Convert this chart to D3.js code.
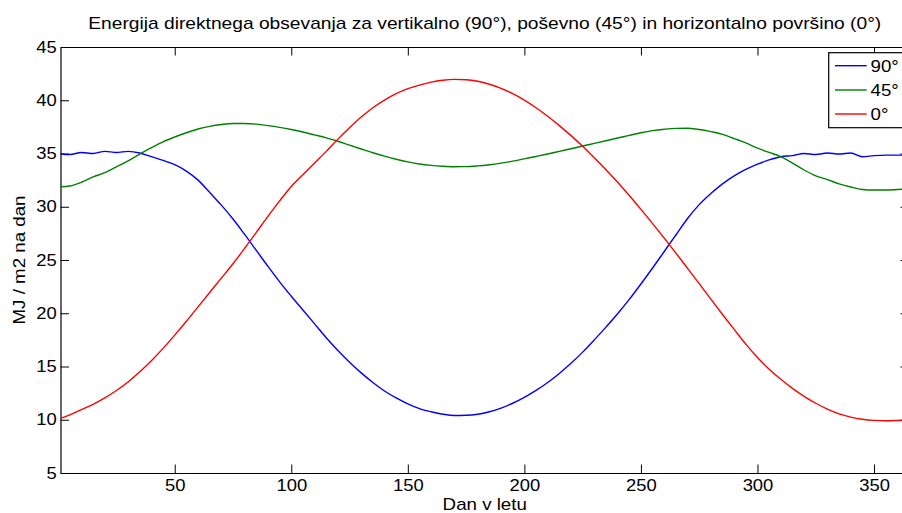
<!DOCTYPE html>
<html>
<head>
<meta charset="utf-8">
<script src="https://cdn.jsdelivr.net/npm/d3@7"></script>
<style>
  html, body { margin: 0; padding: 0; background: #fff; }
  svg { display: block; font-family: "Liberation Sans", Arial, sans-serif; }
</style>
</head>
<body>
<svg id="chart" width="902" height="513"></svg>
<script>
// Day of year at which each value was sampled
const days = [1, 5, 10, 15, 20, 25, 30, 35, 40, 45, 50, 55, 60, 65, 70, 75, 80, 85, 90, 95,
  100, 105, 110, 115, 120, 125, 130, 135, 140, 145, 150, 155, 160, 165, 170, 175, 180, 185, 190, 195,
  200, 205, 210, 215, 220, 225, 230, 235, 240, 245, 250, 255, 260, 265, 270, 275, 280, 285, 290, 295,
  300, 305, 310, 315, 320, 325, 330, 335, 340, 345, 350, 355, 360, 365];

// Daily direct irradiation, MJ / m2, vertical surface (90°)
const vertical90 = [34.95, 34.9, 35.1, 35.0, 35.2, 35.1, 35.2, 35.05, 34.7, 34.35, 33.95, 33.35, 32.5, 31.35, 30.15, 28.85, 27.4, 25.9, 24.4, 22.95,
  21.6, 20.3, 19.0, 17.7, 16.5, 15.4, 14.4, 13.5, 12.7, 12.05, 11.5, 11.05, 10.75, 10.52, 10.4, 10.42, 10.52, 10.75, 11.1, 11.55,
  12.1, 12.75, 13.5, 14.35, 15.3, 16.35, 17.5, 18.7, 19.95, 21.3, 22.75, 24.25, 25.8, 27.35, 28.9, 30.2, 31.25, 32.15, 32.9, 33.5,
  34.0, 34.4, 34.7, 34.8, 35.0, 34.9, 35.05, 34.95, 35.05, 34.7, 34.8, 34.85, 34.85, 34.85];

// Tilted surface (45°)
const tilted45 = [31.88, 31.95, 32.3, 32.8, 33.2, 33.75, 34.3, 34.95, 35.55, 36.1, 36.55, 36.95, 37.3, 37.55, 37.72, 37.82, 37.82, 37.76, 37.62, 37.45,
  37.25, 37.02, 36.75, 36.47, 36.15, 35.78, 35.42, 35.07, 34.75, 34.46, 34.21, 34.01, 33.88, 33.8, 33.76, 33.77, 33.84, 33.95, 34.1, 34.28,
  34.5, 34.72, 34.95, 35.2, 35.45, 35.7, 35.95, 36.2, 36.45, 36.7, 36.95, 37.15, 37.28, 37.36, 37.37, 37.25, 37.05, 36.8, 36.4, 36.0,
  35.5, 35.1, 34.7, 34.1, 33.45, 32.9, 32.55, 32.15, 31.85, 31.62, 31.57, 31.57, 31.62, 31.68];

// Horizontal surface (0°)
const horizontal0 = [10.13, 10.45, 10.95, 11.45, 12.05, 12.75, 13.55, 14.5, 15.55, 16.7, 17.95, 19.25, 20.6, 21.95, 23.3, 24.65, 26.1, 27.6, 29.1, 30.55,
  31.9, 33.0, 34.1, 35.2, 36.35, 37.42, 38.42, 39.3, 40.02, 40.62, 41.09, 41.42, 41.7, 41.88, 41.96, 41.93, 41.78, 41.5, 41.12, 40.62,
  40.02, 39.3, 38.5, 37.62, 36.68, 35.68, 34.6, 33.48, 32.3, 31.05, 29.75, 28.42, 27.05, 25.65, 24.22, 22.78, 21.32, 19.88, 18.48, 17.1,
  15.85, 14.75, 13.8, 12.95, 12.2, 11.55, 11.0, 10.55, 10.25, 10.05, 9.94, 9.9, 9.93, 9.98];

const seriesNames = ["90°", "45°", "0°"];
const seriesColors = ["#0000ff", "#008000", "#ff0000"];
const xTicks = [50, 100, 150, 200, 250, 300, 350];
const yTicks = [5, 10, 15, 20, 25, 30, 35, 40, 45];

const titleText = "Energija direktnega obsevanja za vertikalno (90°), poševno (45°) in horizontalno površino (0°)";
const xLabel = "Dan v letu";
const yLabel = "MJ / m2 na dan";

const svg = d3.select("#chart");
const box = { left: 60.5, right: 909, top: 47, bottom: 473 };

const x = d3.scaleLinear().domain([1, 365]).range([box.left, box.right]);
const y = d3.scaleLinear().domain([5, 45]).range([box.bottom, box.top]);

const tick = 8.5;
const fontSize = 16;
const tickStretch = 1.15;   // wide Helvetica-like glyph proportions
const labelStretch = 1.17;
const titleStretch = 1.2;

// Axes box with inward ticks on all four sides
const gBottom = svg.append("g").attr("transform", `translate(0,${box.bottom})`)
  .call(d3.axisBottom(x).tickValues(xTicks).tickSize(-tick).tickSizeOuter(0).tickPadding(6.5));
const gTop = svg.append("g").attr("transform", `translate(0,${box.top})`)
  .call(d3.axisTop(x).tickValues(xTicks).tickSize(-tick).tickSizeOuter(0).tickFormat(""));
const gLeft = svg.append("g").attr("transform", `translate(${box.left},0)`)
  .call(d3.axisLeft(y).tickValues(yTicks).tickSize(-tick).tickSizeOuter(0).tickPadding(3.3));
const gRight = svg.append("g").attr("transform", `translate(${box.right},0)`)
  .call(d3.axisRight(y).tickValues(yTicks).tickSize(-tick).tickSizeOuter(0).tickFormat(""));

[gBottom, gTop, gLeft, gRight].forEach(g => {
  g.selectAll(".domain").attr("stroke", "#000").attr("stroke-width", 1.2);
  g.selectAll(".tick line").attr("stroke", "#000").attr("stroke-width", 1);
  g.selectAll(".tick text").attr("fill", "#000")
    .attr("transform", `scale(${tickStretch},1)`)
    .style("font-family", '"Liberation Sans", Arial, sans-serif')
    .style("font-size", fontSize + "px");
});

// Data lines
const series = [vertical90, tilted45, horizontal0];
const line = d3.line()
  .x((d, i) => x(days[i]))
  .y(d => y(d))
  .curve(d3.curveMonotoneX);

svg.append("defs").append("clipPath").attr("id", "plotClip")
  .append("rect").attr("x", box.left).attr("y", box.top)
  .attr("width", box.right - box.left).attr("height", box.bottom - box.top);

svg.append("g").attr("clip-path", "url(#plotClip)")
  .selectAll("path").data(series).join("path")
  .attr("d", line)
  .attr("fill", "none")
  .attr("stroke", (d, i) => seriesColors[i])
  .attr("stroke-width", 1.4)
  .attr("stroke-linejoin", "round");

// Text placed at (px, py), optionally rotated, with widened glyphs
function label(px, py, text, anchor, rotate, stretch) {
  return svg.append("text")
    .attr("transform", `translate(${px},${py}) rotate(${rotate || 0}) scale(${stretch},1)`)
    .attr("text-anchor", anchor)
    .style("font-size", fontSize + "px")
    .text(text);
}

// Title and axis labels
label((box.left + box.right) / 2, 29, titleText, "middle", 0, titleStretch);
label((box.left + box.right) / 2, 510, xLabel, "middle", 0, labelStretch);
label(24.5, (box.top + box.bottom) / 2, yLabel, "middle", -90, labelStretch);

// Legend
const legend = svg.append("g");
legend.append("rect")
  .attr("x", 828.7).attr("y", 52.7).attr("width", 77).attr("height", 75)
  .attr("fill", "#fff").attr("stroke", "#000").attr("stroke-width", 1.2);
const rowY = [65.7, 90, 114];
seriesNames.forEach((name, i) => {
  legend.append("line")
    .attr("x1", 835).attr("x2", 866.7).attr("y1", rowY[i]).attr("y2", rowY[i])
    .attr("stroke", seriesColors[i]).attr("stroke-width", 1.4);
  label(870.5, rowY[i] + 5.8, name, "start", 0, labelStretch);
});
</script>
</body>
</html>
